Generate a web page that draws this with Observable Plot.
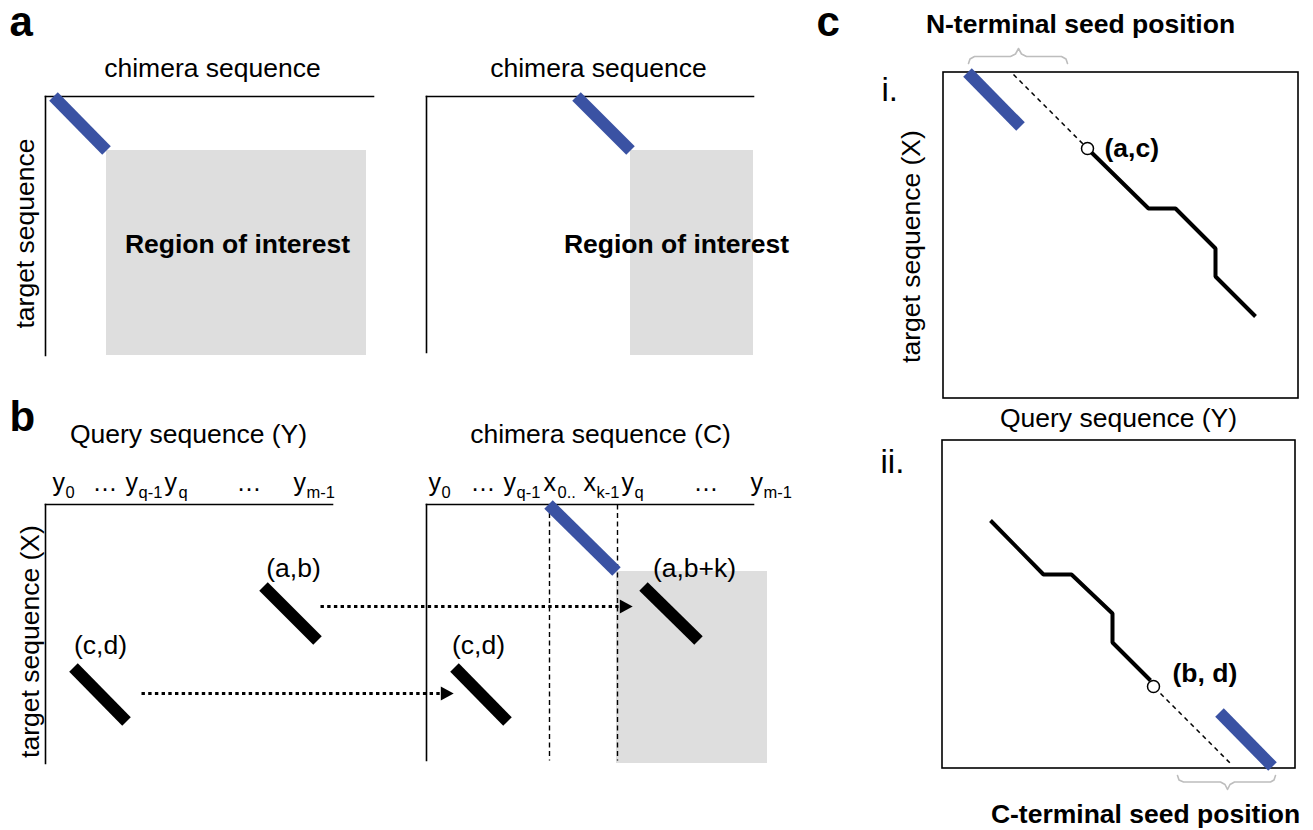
<!DOCTYPE html>
<html>
<head>
<meta charset="utf-8">
<script src="https://cdn.jsdelivr.net/npm/d3@7"></script>
<script src="https://cdn.jsdelivr.net/npm/@observablehq/plot@0.6"></script>
<style>
  html, body { margin: 0; padding: 0; background: #fff; }
  #chart svg { display: block; }
</style>
</head>
<body>
<div id="chart"></div>
<script>
// ---- Diagram geometry (diagram coordinate space 1313 x 830) ----
const BLUE = "#3a52a3";
const GRAY = "#dedede";

// gray "region of interest" rectangles
const regions = [
  {x1: 106, x2: 366, y1: 150, y2: 355},
  {x1: 630, x2: 753, y1: 150, y2: 355},
  {x1: 616, x2: 767, y1: 571, y2: 763}
];

// plot frames (L-shaped axes)
const axesLines = [
  {x1: 45, y1: 96, x2: 373, y2: 96}, {x1: 45, y1: 96, x2: 45, y2: 355},
  {x1: 426, y1: 96, x2: 753, y2: 96}, {x1: 426, y1: 96, x2: 426, y2: 352},
  {x1: 45, y1: 504, x2: 332, y2: 504}, {x1: 45, y1: 504, x2: 45, y2: 763},
  {x1: 426, y1: 504, x2: 753, y2: 504}, {x1: 426, y1: 504, x2: 426, y2: 760}
];

// boxed plots of panel c
const boxes = [
  {x1: 943, x2: 1298, y1: 72, y2: 398},
  {x1: 942, x2: 1295, y1: 440, y2: 768}
];

// seed segments (blue) and alignment segments (black)
const seeds = [
  {x1: 53, y1: 96, x2: 106, y2: 150},
  {x1: 576, y1: 96, x2: 630, y2: 150},
  {x1: 548, y1: 504, x2: 616, y2: 571},
  {x1: 967, y1: 72, x2: 1020, y2: 126},
  {x1: 1219, y1: 712, x2: 1272, y2: 766}
];
const hits = [
  {x1: 263, y1: 586, x2: 317, y2: 640},
  {x1: 73, y1: 667, x2: 126, y2: 721},
  {x1: 643, y1: 586, x2: 698, y2: 640},
  {x1: 454, y1: 667, x2: 507, y2: 721}
];

// dashed guides
const dashedGuides = [
  {x1: 549, y1: 504, x2: 549, y2: 760},
  {x1: 617, y1: 504, x2: 617, y2: 760}
];
const extensions = [
  {x1: 1013, y1: 74, x2: 1083, y2: 144},
  {x1: 1160, y1: 693, x2: 1230, y2: 763}
];

// dotted arrows
const arrowShafts = [
  {x1: 320, y1: 606, x2: 618, y2: 606},
  {x1: 141, y1: 693, x2: 440, y2: 693}
];
const arrowHeads = [
  {x: 625, y: 606},
  {x: 446, y: 693}
];

// gapped alignment paths in panel c
const paths = [
  {id: "i", x: 1090, y: 151}, {id: "i", x: 1148, y: 208}, {id: "i", x: 1175, y: 208},
  {id: "i", x: 1215, y: 248}, {id: "i", x: 1215, y: 276}, {id: "i", x: 1255, y: 316},
  {id: "ii", x: 990, y: 520}, {id: "ii", x: 1043, y: 574}, {id: "ii", x: 1071, y: 574},
  {id: "ii", x: 1112, y: 613}, {id: "ii", x: 1112, y: 642}, {id: "ii", x: 1150, y: 680}
];
const anchors = [
  {x: 1087, y: 148},
  {x: 1153, y: 686}
];

// braces
const braces = [
  {id: "top", x: 968, y: 63}, {id: "top", x: 969.5, y: 58.5}, {id: "top", x: 974, y: 56},
  {id: "top", x: 1010, y: 56}, {id: "top", x: 1015, y: 53.5}, {id: "top", x: 1018, y: 48},
  {id: "top", x: 1021, y: 53.5}, {id: "top", x: 1026, y: 56}, {id: "top", x: 1061, y: 56},
  {id: "top", x: 1065.5, y: 58.5}, {id: "top", x: 1067, y: 63},
  {id: "bot", x: 1177, y: 775}, {id: "bot", x: 1178.5, y: 779.5}, {id: "bot", x: 1183, y: 781.5},
  {id: "bot", x: 1220, y: 781.5}, {id: "bot", x: 1224.5, y: 784}, {id: "bot", x: 1227, y: 789},
  {id: "bot", x: 1229.5, y: 784}, {id: "bot", x: 1234, y: 781.5}, {id: "bot", x: 1270, y: 781.5},
  {id: "bot", x: 1273.5, y: 779.5}, {id: "bot", x: 1275, y: 775}
];

// text
const panelLetters = [
  {text: "a", x: 9, y: 35},
  {text: "b", x: 9, y: 430},
  {text: "c", x: 816, y: 35}
];
const subPanelLabels = [
  {text: "i.", x: 881, y: 100},
  {text: "ii.", x: 880, y: 472}
];
const axisTitles = [
  {text: "chimera sequence", x: 212, y: 76},
  {text: "chimera sequence", x: 598, y: 76},
  {text: "Query sequence (Y)", x: 188, y: 442},
  {text: "chimera sequence (C)", x: 600, y: 442},
  {text: "Query sequence (Y)", x: 1118, y: 426}
];
const verticalTitles = [
  {text: "target sequence", x: 33, y: 233},
  {text: "target sequence (X)", x: 38, y: 641},
  {text: "target sequence (X)", x: 919, y: 246}
];
const regionLabels = [
  {text: "Region of interest", x: 237, y: 252},
  {text: "Region of interest", x: 676, y: 252}
];
const pointLabels = [
  {text: "(a,b)", x: 293, y: 576},
  {text: "(c,d)", x: 100, y: 653},
  {text: "(a,b+k)", x: 694, y: 576},
  {text: "(c,d)", x: 478, y: 653}
];
const anchorLabels = [
  {text: "(a,c)", x: 1104, y: 156},
  {text: "(b, d)", x: 1172, y: 681}
];
const seedTitles = [
  {text: "N-terminal seed position", x: 1080, y: 32},
  {text: "C-terminal seed position", x: 1145, y: 822}
];
// sequence tick labels: base symbol and subscript
const tickBase = [
  {text: "y", x: 52}, {text: "…", x: 92}, {text: "y", x: 125}, {text: "y", x: 164},
  {text: "…", x: 236}, {text: "y", x: 293},
  {text: "y", x: 428}, {text: "…", x: 470}, {text: "y", x: 503}, {text: "x", x: 543},
  {text: "x", x: 583}, {text: "y", x: 621}, {text: "…", x: 693}, {text: "y", x: 750}
];
const tickSub = [
  {text: "0", x: 65}, {text: "q-1", x: 138}, {text: "q", x: 178}, {text: "m-1", x: 306},
  {text: "0", x: 441}, {text: "q-1", x: 516}, {text: "0..", x: 557}, {text: "k-1", x: 596},
  {text: "q", x: 634}, {text: "m-1", x: 763}
];
const TICK_BASELINE = 490;
const SUB_BASELINE = 497;

const rightTriangle = {
  draw(context, size) {
    const s = Math.sqrt(size / Math.PI);
    context.moveTo(s * 1.2, 0);
    context.lineTo(-s * 0.95, -s * 1.15);
    context.lineTo(-s * 0.95, s * 1.15);
    context.closePath();
  }
};

const FONT = "'Liberation Sans', Arial, Helvetica, sans-serif";

const chart = Plot.plot({
  width: 1313,
  height: 830,
  margin: 0,
  x: {domain: [0, 1313], range: [0, 1313], axis: null},
  y: {domain: [0, 830], range: [0, 830], axis: null},
  style: {fontFamily: FONT, background: "#fff", color: "#000", overflow: "visible"},
  marks: [
    Plot.rect(regions, {x1: "x1", x2: "x2", y1: "y1", y2: "y2", fill: GRAY}),
    Plot.rect(boxes, {x1: "x1", x2: "x2", y1: "y1", y2: "y2", fill: "none", stroke: "#000", strokeWidth: 1.6}),
    Plot.link(dashedGuides, {x1: "x1", y1: "y1", x2: "x2", y2: "y2", stroke: "#000", strokeWidth: 1.4, strokeDasharray: "5,3.5"}),
    Plot.link(axesLines, {x1: "x1", y1: "y1", x2: "x2", y2: "y2", stroke: "#000", strokeWidth: 1.6, strokeLinecap: "square"}),
    Plot.link(extensions, {x1: "x1", y1: "y1", x2: "x2", y2: "y2", stroke: "#000", strokeWidth: 1.5, strokeDasharray: "4.5,4"}),
    Plot.link(arrowShafts, {x1: "x1", y1: "y1", x2: "x2", y2: "y2", stroke: "#000", strokeWidth: 3, strokeDasharray: "3.4,3.3"}),
    Plot.dot(arrowHeads, {x: "x", y: "y", r: 6, symbol: rightTriangle, fill: "#000", stroke: "none"}),
    Plot.link(seeds, {x1: "x1", y1: "y1", x2: "x2", y2: "y2", stroke: BLUE, strokeWidth: 12, strokeLinecap: "butt"}),
    Plot.link(hits, {x1: "x1", y1: "y1", x2: "x2", y2: "y2", stroke: "#000", strokeWidth: 12, strokeLinecap: "butt"}),
    Plot.line(paths, {x: "x", y: "y", z: "id", stroke: "#000", strokeWidth: 4, strokeLinejoin: "miter", strokeLinecap: "butt", curve: "linear"}),
    Plot.dot(anchors, {x: "x", y: "y", r: 6, stroke: "#000", fill: "#fff", strokeWidth: 1.5}),
    Plot.line(braces, {x: "x", y: "y", z: "id", stroke: "#bdbdbd", strokeWidth: 1.6, curve: "linear"}),

    Plot.text(panelLetters, {x: "x", y: "y", text: "text", fontSize: 42, fontWeight: "bold", textAnchor: "start", lineAnchor: "bottom", fill: "#000"}),
    Plot.text(subPanelLabels, {x: "x", y: "y", text: "text", fontSize: 33, textAnchor: "start", lineAnchor: "bottom", fill: "#000"}),
    Plot.text(axisTitles, {x: "x", y: "y", text: "text", fontSize: 26.5, textAnchor: "middle", lineAnchor: "bottom", fill: "#000"}),
    Plot.text(verticalTitles, {x: "x", y: "y", text: "text", fontSize: 26.5, textAnchor: "middle", lineAnchor: "bottom", rotate: -90, fill: "#000"}),
    Plot.text(regionLabels, {x: "x", y: "y", text: "text", fontSize: 26.5, fontWeight: "bold", textAnchor: "middle", lineAnchor: "bottom", fill: "#000"}),
    Plot.text(pointLabels, {x: "x", y: "y", text: "text", fontSize: 26.5, textAnchor: "middle", lineAnchor: "bottom", fill: "#000"}),
    Plot.text(anchorLabels, {x: "x", y: "y", text: "text", fontSize: 26.5, fontWeight: "bold", textAnchor: "start", lineAnchor: "bottom", fill: "#000"}),
    Plot.text(seedTitles, {x: "x", y: "y", text: "text", fontSize: 26.5, fontWeight: "bold", textAnchor: "middle", lineAnchor: "bottom", fill: "#000"}),
    Plot.text(tickBase, {x: "x", y: () => TICK_BASELINE, text: "text", fontSize: 25, textAnchor: "start", lineAnchor: "bottom", fill: "#000"}),
    Plot.text(tickSub, {x: "x", y: () => SUB_BASELINE, text: "text", fontSize: 16.5, textAnchor: "start", lineAnchor: "bottom", fill: "#000"})
  ]
});

document.getElementById("chart").append(chart);
</script>
</body>
</html>
